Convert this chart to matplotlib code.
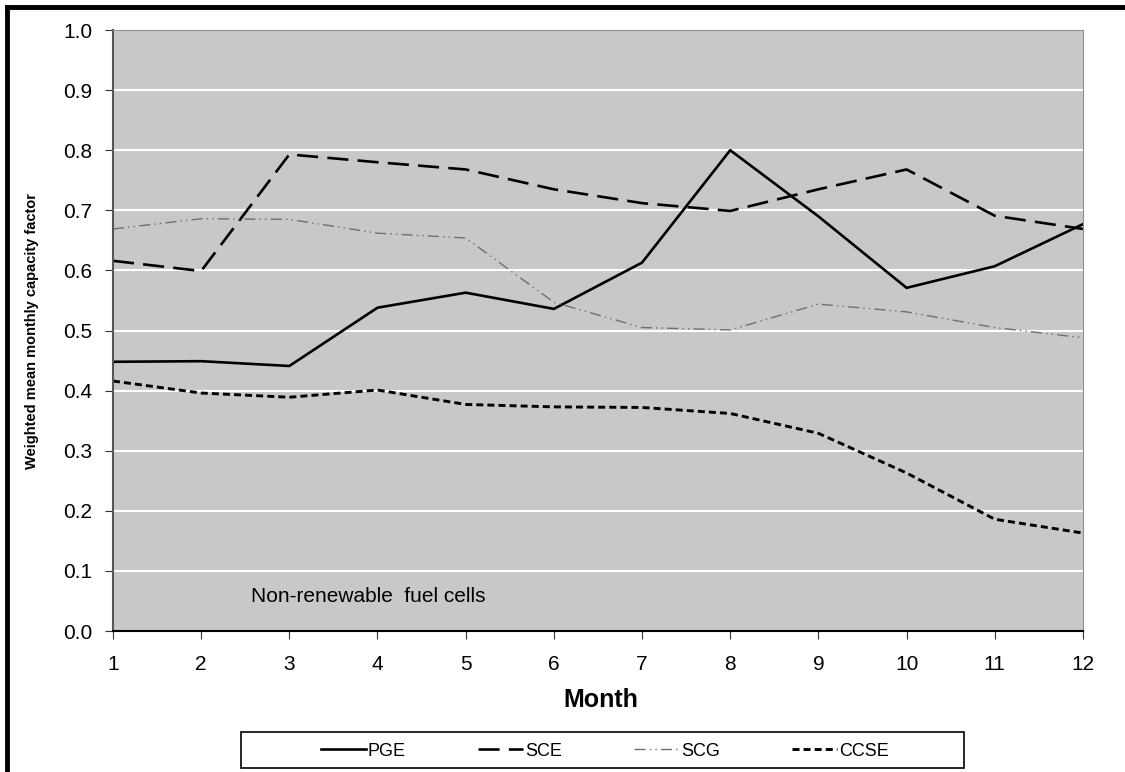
import matplotlib

matplotlib.use("Agg")
import matplotlib.pyplot as plt
from matplotlib.lines import Line2D
from matplotlib.patches import Rectangle

plt.rcParams["font.family"] = ["Liberation Sans", "DejaVu Sans"]

months = list(range(1, 13))
pge = [0.448, 0.449, 0.441, 0.538, 0.563, 0.536, 0.613, 0.800, 0.690, 0.571, 0.607, 0.677]
sce = [0.616, 0.599, 0.793, 0.780, 0.768, 0.735, 0.712, 0.699, 0.735, 0.768, 0.691, 0.669]
scg = [0.669, 0.686, 0.685, 0.662, 0.654, 0.547, 0.505, 0.501, 0.544, 0.531, 0.505, 0.488]
ccse = [0.416, 0.396, 0.389, 0.401, 0.377, 0.373, 0.372, 0.362, 0.329, 0.263, 0.186, 0.163]
y_ticks = [round(0.1 * i, 1) for i in range(11)]

fig = plt.figure(figsize=(11.25, 7.72), dpi=100)
# outer frame: only top and left edges are visible in the original
fig.add_artist(Line2D([0.0063, 1.0], [0.9915, 0.9915], transform=fig.transFigure,
                      color="black", linewidth=3.5))
fig.add_artist(Line2D([0.0063, 0.0063], [0.0, 0.9915], transform=fig.transFigure,
                      color="black", linewidth=3.5))

ax = fig.add_axes([0.1004, 0.1826, 0.8622, 0.7785])
ax.set_facecolor("#c8c8c8")

ax.plot(months, pge, color="black", linewidth=1.9, linestyle="-", label="PGE")
ax.plot(months, sce, color="black", linewidth=1.9, linestyle=(0, (8, 3.5)), label="SCE")
ax.plot(months, scg, color="#707070", linewidth=1, linestyle=(0, (8, 3, 1, 3, 1, 3)), label="SCG")
ax.plot(months, ccse, color="black", linewidth=2.1, linestyle=(0, (2.4, 1.4)), label="CCSE")

ax.set_xlim(1, 12)
ax.set_ylim(0, 1.0)
ax.set_xticks(months)
ax.set_yticks(y_ticks)
ax.set_yticklabels([f"{v:.1f}" for v in y_ticks])
ax.grid(axis="y", color="white", linewidth=1.5)
ax.set_axisbelow(True)
ax.tick_params(axis="both", direction="out", length=6, labelsize=15, color="#333333")
ax.tick_params(axis="x", pad=11)
ax.tick_params(axis="y", pad=9)
ax.spines["top"].set_color("#909090")
ax.spines["right"].set_color("#909090")
ax.spines["left"].set_color("#555555")
ax.spines["left"].set_linewidth(1.5)
ax.spines["bottom"].set_color("black")
ax.spines["bottom"].set_linewidth(1.5)

ax.set_xlabel("Month", fontsize=18, fontweight="bold")
ax.xaxis.set_label_coords(0.503, -0.094)
ax.set_ylabel("Weighted mean monthly capacity factor", fontsize=10.5, fontweight="bold")
ax.yaxis.set_label_coords(-0.076, 0.5)
ax.text(0.142, 0.057, "Non-renewable  fuel cells", transform=ax.transAxes, fontsize=15,
        ha="left", va="center")

# legend box drawn separately so the padding matches the original
fig.add_artist(Rectangle((0.2142, 0.0052), 0.6427, 0.0466, transform=fig.transFigure,
                         fill=False, edgecolor="black", linewidth=1.2))
fig.legend(loc="center", bbox_to_anchor=(0.5378, 0.0272), ncol=4, frameon=False,
           fontsize=13, handlelength=2.5, handletextpad=0.1, columnspacing=4.0)

fig.savefig("out.png", dpi=100)
